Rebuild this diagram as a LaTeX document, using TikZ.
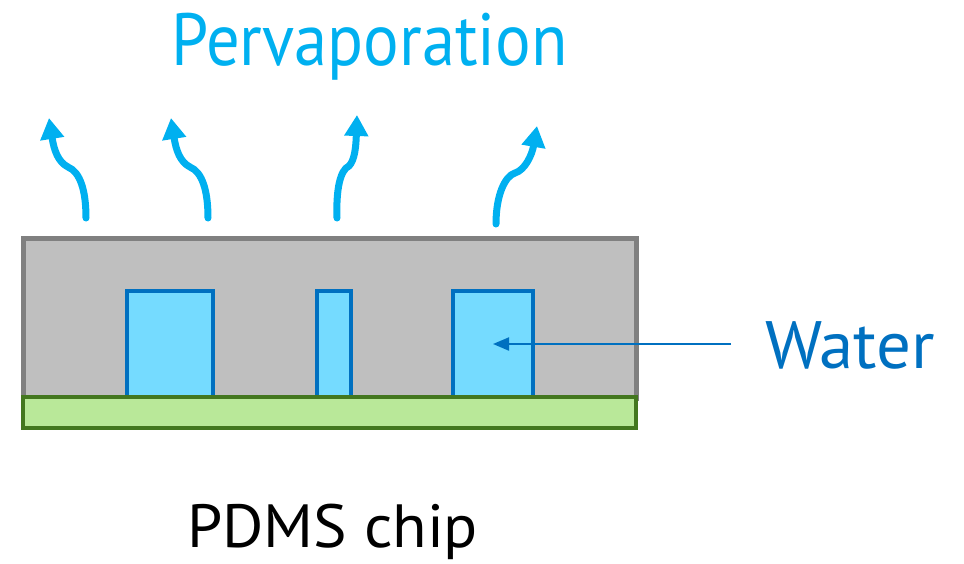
\documentclass[tikz,border=0pt]{standalone}
\usepackage{fontspec}
\setmainfont{PT Sans}
\usetikzlibrary{arrows.meta}
\definecolor{chipgray}{HTML}{BFBFBF}
\definecolor{chipedge}{HTML}{808080}
\definecolor{subfill}{HTML}{B9E899}
\definecolor{subedge}{HTML}{43771F}
\definecolor{chfill}{HTML}{75DBFF}
\definecolor{chedge}{HTML}{0070C0}
\definecolor{vapor}{HTML}{00B0F0}
\tikzset{
  box/.style={draw, rectangle, inner sep=0pt, outer sep=0pt, anchor=north west},
  chip/.style={box, fill=chipgray, draw=chipedge, line width=5pt},
  substrate/.style={box, fill=subfill, draw=subedge, line width=4pt},
  channel/.style={box, fill=chfill, draw=chedge, line width=3.5pt},
  vaparrow/.style={draw=vapor, line width=7pt, line cap=round, -{Triangle[width=23pt,length=21pt]}},
  pointer/.style={draw=chedge, line width=2pt, -{Triangle[width=13pt,length=16pt]}},
  label/.style={inner sep=0pt, anchor=base west}
}
\begin{document}
\begin{tikzpicture}[x=1pt,y=-1pt]
\useasboundingbox (0,0) rectangle (964,563);
% chip body
\node[chip, minimum width=613pt, minimum height=160pt] (body) at (23,238) {};
% channels
\node[channel, minimum width=86pt, minimum height=106pt] (ch1) at (127,291) {};
\node[channel, minimum width=34pt, minimum height=106pt] (ch2) at (317,291) {};
\node[channel, minimum width=80pt, minimum height=106pt] (ch3) at (453,291) {};
% substrate
\node[substrate, minimum width=613pt, minimum height=31pt] (sub) at (23,397) {};
% texts
\node[label, text=vapor, font=\fontsize{74}{80}\selectfont\addfontfeature{FakeStretch=0.9}] (perv) at (171,65) {Pervaporation};
\node[label, text=chedge, font=\fontsize{67}{72}\selectfont\addfontfeature{FakeStretch=1.03}] (water) at (765,368) {Water};
\node[label, text=black, font=\fontsize{61}{66}\selectfont\addfontfeature{FakeStretch=1.035}] (pdms) at (187,547) {PDMS chip};
% pervaporation arrows
\coordinate (a1s) at (86,218);
\coordinate (a1e) at (49,118);
\coordinate (a2s) at (208,218);
\coordinate (a2e) at (171,118);
\coordinate (a3s) at (337,218);
\coordinate (a3e) at (357,115);
\coordinate (a4s) at (496,224);
\coordinate (a4e) at (537,126);
\draw[vaparrow] (a1s) .. controls (86,190) and (80,172) .. (68,167) .. controls (58,162) and (54,150) .. (a1e);
\draw[vaparrow] (a2s) .. controls (208,190) and (202,172) .. (190,167) .. controls (180,162) and (176,150) .. (a2e);
\draw[vaparrow] (a3s) .. controls (336,190) and (340,170) .. (349,166) .. controls (355,160) and (356,145) .. (a3e);
\draw[vaparrow] (a4s) .. controls (496,195) and (505,176) .. (515,173) .. controls (525,170) and (532,155) .. (a4e);
% water pointer
\path (ch3.center) ++(238pt,0pt) coordinate (wstart);
\draw[pointer] (wstart) -- (ch3.center);
\end{tikzpicture}
\end{document}
